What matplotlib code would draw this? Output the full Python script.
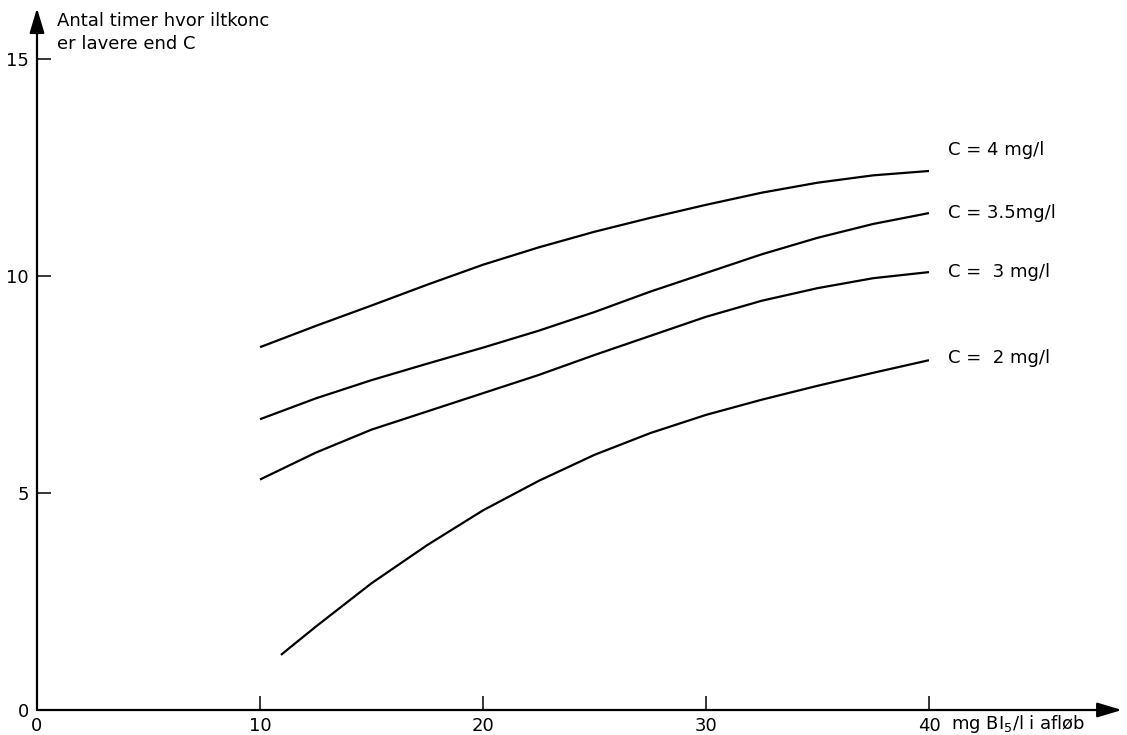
import matplotlib
matplotlib.use("Agg")
import matplotlib.pyplot as plt

# values (x = mg BI5/l i afløb, y = hours)
x_c4 = [10, 12.5, 15, 17.5, 20, 22.5, 25, 27.5, 30, 32.5, 35, 37.5, 40]
y_c4 = [8.36, 8.85, 9.32, 9.8, 10.26, 10.66, 11.02, 11.34, 11.64, 11.92, 12.15, 12.32, 12.42]

x_c35 = [10, 12.5, 15, 17.5, 20, 22.5, 25, 27.5, 30, 32.5, 35, 37.5, 40]
y_c35 = [6.7, 7.18, 7.6, 7.98, 8.35, 8.74, 9.17, 9.64, 10.07, 10.5, 10.88, 11.2, 11.45]

x_c3 = [10, 12.5, 15, 17.5, 20, 22.5, 25, 27.5, 30, 32.5, 35, 37.5, 40]
y_c3 = [5.31, 5.93, 6.46, 6.88, 7.3, 7.72, 8.18, 8.62, 9.06, 9.43, 9.72, 9.95, 10.09]

x_c2 = [10.94, 12.5, 15, 17.5, 20, 22.5, 25, 27.5, 30, 32.5, 35, 37.5, 40]
y_c2 = [1.27, 1.92, 2.92, 3.8, 4.6, 5.28, 5.88, 6.38, 6.8, 7.15, 7.47, 7.77, 8.06]

curve_labels = ["C = 4 mg/l", "C = 3.5mg/l", "C =  3 mg/l", "C =  2 mg/l"]
label_y = [12.9, 11.45, 10.09, 8.11]

x_ticks = [0, 10, 20, 30, 40]
y_ticks = [0, 5, 10, 15]


def main():
    fig = plt.figure(figsize=(11.27, 7.35), dpi=100)
    ax = fig.add_axes([37 / 1127, 25 / 735, 1090 / 1127, 710 / 735])
    ax.set_xlim(0, 48.88)
    ax.set_ylim(0, 16.36)

    for xs, ys in [(x_c4, y_c4), (x_c35, y_c35), (x_c3, y_c3), (x_c2, y_c2)]:
        ax.plot(xs, ys, color="black", lw=1.6, solid_capstyle="butt",
                solid_joinstyle="round")

    for text, yy in zip(curve_labels, label_y):
        ax.text(40.85, yy, text, fontsize=13, va="center", ha="left")

    for s in ax.spines.values():
        s.set_visible(False)

    arrow = dict(arrowstyle="-|>,head_length=1.0,head_width=0.3", lw=1.6,
                 color="black", shrinkA=0, shrinkB=0, mutation_scale=15)
    ax.annotate("", xy=(48.65, 0), xytext=(0, 0), arrowprops=arrow, annotation_clip=False)
    ax.annotate("", xy=(0, 16.17), xytext=(0, 0), arrowprops=arrow, annotation_clip=False)

    ax.set_xticks(x_ticks)
    ax.set_yticks(y_ticks)
    ax.tick_params(direction="in", length=10, width=1.1, labelsize=13)
    ax.tick_params(axis="x", pad=5)
    ax.tick_params(axis="y", pad=6)

    ax.text(0.9, 16.08, "Antal timer hvor iltkonc\ner lavere end C", fontsize=13,
            va="top", ha="left", linespacing=1.35)
    ax.text(41.0, -0.43, "mg BI$_5$/l i afløb", fontsize=13, va="baseline", ha="left")

    fig.savefig("out.png", dpi=100)


if __name__ == '__main__':
    main()
